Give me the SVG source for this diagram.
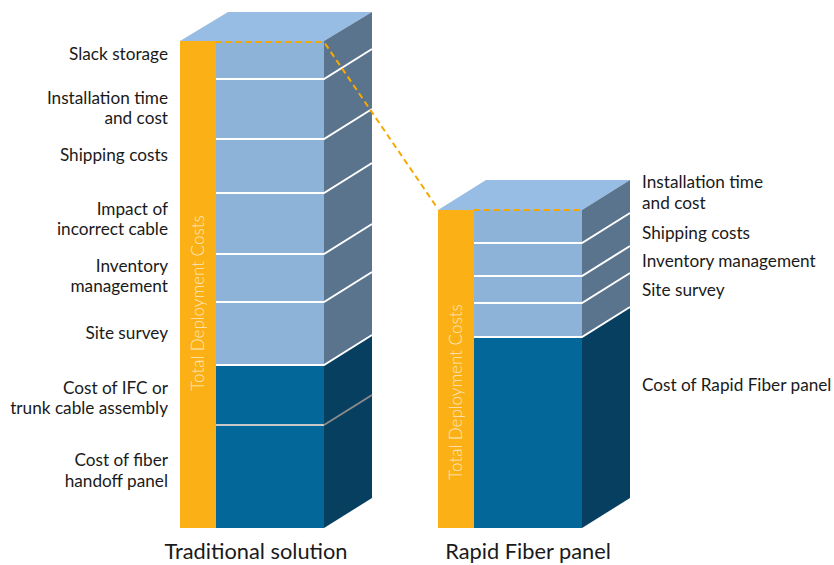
<svg xmlns="http://www.w3.org/2000/svg" width="834" height="565" viewBox="0 0 834 565">
<style>
.top{fill:#98bde4}
.fl{fill:#8db3d8}
.sl{fill:#5a748e}
.fd{fill:#03679a}
.sd{fill:#073f60}
.bar{fill:#fbb116}
.div{stroke:#ffffff;stroke-width:2;fill:none}
.grey{stroke:#c8c8c8;stroke-width:2;fill:none}
.lbl{font-family:Lato,"Open Sans","Liberation Sans",sans-serif;font-size:17.2px;fill:#1a1a1a}
.ttl{font-family:Lato,"Open Sans","Liberation Sans",sans-serif;font-size:21.8px;fill:#1a1a1a;text-anchor:middle}
.vt{font-family:Lato,"Open Sans","Liberation Sans",sans-serif;font-size:17px;font-weight:300;fill:#fbe7c0;text-anchor:middle}
.dash{stroke:#f7a800;stroke-width:2;stroke-dasharray:6 4;fill:none}
</style>
<rect width="834" height="565" fill="#ffffff"/>
<g id="traditional">
<polygon class="top" points="180,41 228,12 372,12 324,41"/>
<polygon class="sl" points="324,41 372,12 372,335 324,365"/>
<polygon class="sd" points="324,365 372,335 372,498 324,528"/>
<rect class="fl" x="216" y="41" width="108" height="324"/>
<rect class="fd" x="216" y="365" width="108" height="163"/>
<rect class="bar" x="180" y="41" width="36" height="487"/>
<path class="div" d="M216,79H324L372,49M216,139H324L372,109M216,193H324L372,163M216,254H324L372,224M216,302H324L372,272M216,365H324L372,335"/>
<path class="grey" d="M216,425H324"/>
<path d="M324,425L372,395" stroke="#8a8a8a" stroke-width="2"/>
<text class="vt" transform="translate(204,303) rotate(-90)">Total Deployment Costs</text>
<text class="lbl" text-anchor="end" x="168" y="60">Slack storage</text>
<text class="lbl" text-anchor="end" x="168" y="104">Installation time </text>
<text class="lbl" text-anchor="end" x="168" y="124">and cost</text>
<text class="lbl" text-anchor="end" x="168" y="161">Shipping costs</text>
<text class="lbl" text-anchor="end" x="168" y="215">Impact of </text>
<text class="lbl" text-anchor="end" x="168" y="235">incorrect cable</text>
<text class="lbl" text-anchor="end" x="168" y="272">Inventory</text>
<text class="lbl" text-anchor="end" x="168" y="292">management</text>
<text class="lbl" text-anchor="end" x="168" y="339">Site survey</text>
<text class="lbl" text-anchor="end" x="168" y="394">Cost of IFC or</text>
<text class="lbl" text-anchor="end" x="168" y="414">trunk cable assembly</text>
<text class="lbl" text-anchor="end" x="168" y="466">Cost of fiber</text>
<text class="lbl" text-anchor="end" x="168" y="487">handoff panel</text>
<text class="ttl" x="256" y="559">Traditional solution</text>
</g>
<g id="rapid">
<polygon class="top" points="438,210 486,180 630,180 582,210"/>
<polygon class="sl" points="582,210 630,180 630,307 582,337"/>
<polygon class="sd" points="582,337 630,307 630,498 582,528"/>
<rect class="fl" x="474" y="210" width="108" height="127"/>
<rect class="fd" x="474" y="337" width="108" height="191"/>
<rect class="bar" x="438" y="210" width="36" height="318"/>
<path class="div" d="M474,243H582L630,213M474,276H582L630,246M474,303H582L630,273M474,337H582L630,307"/>
<text class="vt" transform="translate(462,392) rotate(-90)">Total Deployment Costs</text>
<text class="lbl" x="642" y="188">Installation time</text>
<text class="lbl" x="642" y="209">and cost</text>
<text class="lbl" x="642" y="239">Shipping costs</text>
<text class="lbl" x="642" y="267">Inventory management</text>
<text class="lbl" x="642" y="296">Site survey</text>
<text class="lbl" x="642" y="391">Cost of Rapid Fiber panel</text>
<text class="ttl" x="528" y="559">Rapid Fiber panel</text>
</g>
<g id="connectors">
<path class="dash" d="M216,42H324L438,209"/>
<path class="dash" d="M474,210H582"/>
</g>
</svg>
